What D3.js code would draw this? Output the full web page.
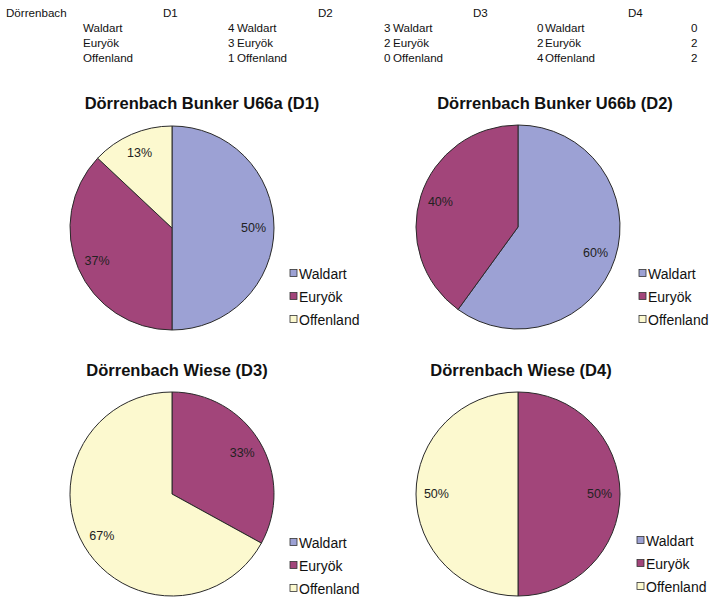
<!DOCTYPE html>
<html>
<head>
<meta charset="utf-8">
<script src="https://cdn.jsdelivr.net/npm/d3@7"></script>
<style>
  html, body { margin: 0; padding: 0; background: #fff; }
  svg { display: block; font-family: "Liberation Sans", Arial, Helvetica, sans-serif; }
</style>
</head>
<body>
<svg id="chart" width="711" height="599"></svg>
<script>
// Species groups and their counts per site (sheet table)
const categories = ["Waldart", "Euryök", "Offenland"];
const sites = ["D1", "D2", "D3", "D4"];
const countsD1 = [4, 3, 1];
const countsD2 = [3, 2, 0];
const countsD3 = [0, 2, 4];
const countsD4 = [0, 2, 2];

// Percent shares shown on the pies
const pctD1 = [50, 37, 13];
const pctD2 = [60, 40, 0];
const pctD3 = [0, 33, 67];
const pctD4 = [0, 50, 50];

const titles = [
  "Dörrenbach Bunker U66a (D1)",
  "Dörrenbach Bunker U66b (D2)",
  "Dörrenbach Wiese (D3)",
  "Dörrenbach Wiese (D4)"
];
const colors = ["#9ca1d4", "#a2457a", "#fcf9cf"];

const svg = d3.select("#chart");
const color = d3.scaleOrdinal().domain(categories).range(colors);

// ---- table at the top ----
const tbl = svg.append("g").attr("font-size", 11.6).attr("fill", "#111");
tbl.append("text").attr("x", 6).attr("y", 17).text("Dörrenbach");
const headX = [163, 318, 473, 628];
sites.forEach((s, i) => tbl.append("text").attr("x", headX[i]).attr("y", 17).text(s));
const rowY = [32, 47, 62];
const counts = [countsD1, countsD2, countsD3, countsD4];
const numX = [228, 384, 537, 691];
const nameX = [83, 237, 393, 545];
categories.forEach((c, r) => {
  nameX.forEach((x, i) => tbl.append("text").attr("x", x).attr("y", rowY[r]).text(c));
  numX.forEach((x, i) => tbl.append("text").attr("x", x).attr("y", rowY[r]).text(counts[i][r]));
});

// ---- pie panels ----
const panels = [
  { pct: pctD1, cx: 172, cy: 228, tx: 202, ty: 109, lx: 290, ly: 274 },
  { pct: pctD2, cx: 518, cy: 227, tx: 555, ty: 109, lx: 639, ly: 274 },
  { pct: pctD3, cx: 172, cy: 494, tx: 177, ty: 376, lx: 290, ly: 543 },
  { pct: pctD4, cx: 518, cy: 494, tx: 521, ty: 376, lx: 637, ly: 541 }
];
const R = 102;
const pie = d3.pie().sort(null).value(d => d.v);
const arc = d3.arc().innerRadius(0).outerRadius(R);
const labelArc = d3.arc().innerRadius(R * 0.8).outerRadius(R * 0.8);

panels.forEach((p, i) => {
  const data = categories.map((c, k) => ({ c, v: p.pct[k] }));
  const g = svg.append("g");

  g.append("text")
    .attr("x", p.tx).attr("y", p.ty)
    .attr("text-anchor", "middle")
    .attr("font-size", 16.5).attr("font-weight", "bold").attr("fill", "#111")
    .text(titles[i]);

  const pg = g.append("g").attr("transform", `translate(${p.cx},${p.cy})`);
  const arcs = pie(data).filter(d => d.data.v > 0);
  pg.selectAll("path").data(arcs).join("path")
    .attr("d", arc)
    .attr("fill", d => color(d.data.c))
    .attr("stroke", "#2a2a2a").attr("stroke-width", 1);
  pg.selectAll("text").data(arcs).join("text")
    .attr("transform", d => `translate(${labelArc.centroid(d)})`)
    .attr("text-anchor", "middle").attr("dy", "0.35em")
    .attr("font-size", 12.5).attr("fill", "#222")
    .text(d => d.data.v + "%");

  const lg = g.append("g").attr("transform", `translate(${p.lx},${p.ly})`);
  categories.forEach((c, k) => {
    const row = lg.append("g").attr("transform", `translate(0,${k * 23})`);
    row.append("rect").attr("x", 0).attr("y", -4.5).attr("width", 7).attr("height", 7)
      .attr("fill", color(c)).attr("stroke", "#333").attr("stroke-width", 0.8);
    row.append("text").attr("x", 9).attr("y", 0).attr("dy", "0.35em")
      .attr("font-size", 14).attr("fill", "#111").text(c);
  });
});
</script>
</body>
</html>
